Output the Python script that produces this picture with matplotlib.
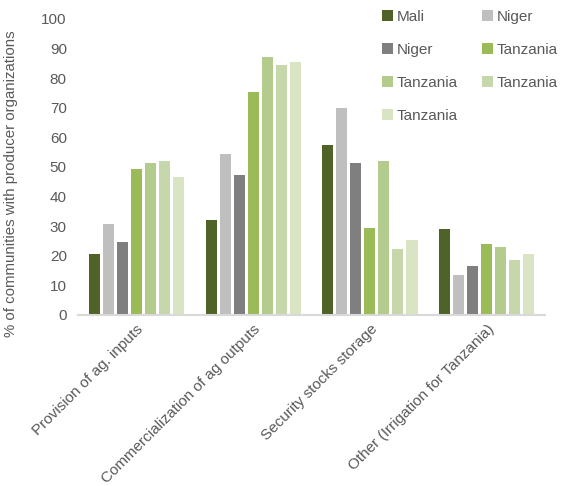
import matplotlib
matplotlib.use("Agg")
import matplotlib.pyplot as plt
import numpy as np

plt.rcParams['font.family'] = ['Liberation Sans', 'DejaVu Sans']

categories = ["Provision of ag. inputs", "Commercialization of ag outputs",
              "Security stocks storage", "Other (Irrigation for Tanzania)"]
series_names = ["Mali", "Niger", "Niger", "Tanzania", "Tanzania", "Tanzania", "Tanzania"]
values = [
    [20.6, 32.1, 57.4, 28.9],
    [30.6, 54.5, 69.8, 13.5],
    [24.5, 47.2, 51.2, 16.6],
    [49.4, 75.2, 29.4, 23.9],
    [51.2, 87.0, 52.0, 22.9],
    [51.9, 84.5, 22.3, 18.7],
    [46.7, 85.6, 25.4, 20.6],
]
colors = ["#4F6228", "#BFBFBF", "#7F7F7F", "#9BBB59", "#B3CB8D", "#C6D7AC", "#D8E4C4"]
yticks = list(range(0, 101, 10))

fig = plt.figure(figsize=(5.69, 4.86), dpi=100)
ax = fig.add_axes([0.137, 0.352, 0.821, 0.609])

x = np.arange(len(categories))
slot = 0.12
bw = 0.095
n = len(series_names)
handles = []
for i, (name, vals, c) in enumerate(zip(series_names, values, colors)):
    off = (i - (n - 1) / 2) * slot
    b = ax.bar(x + off, vals, width=bw, color=c, label=name, edgecolor='none')
    handles.append(b)

ax.set_xlim(-0.5, len(categories) - 0.5)
ax.set_ylim(0, 100)
ax.set_yticks(yticks)
ax.tick_params(axis='y', length=0, labelsize=11, labelcolor='#595959', pad=8)
ax.tick_params(axis='x', length=0, labelsize=11, labelcolor='#595959', pad=5)
ax.set_xticks(x)
ax.set_xticklabels(categories, rotation=45, ha='right', rotation_mode='anchor')
for s in ['top', 'right', 'left']:
    ax.spines[s].set_visible(False)
ax.spines['bottom'].set_color('#D9D9D9')
ax.spines['bottom'].set_linewidth(1.5)
ax.set_ylabel("% of communities with producer organizations", fontsize=10.8, color='#595959')
ax.yaxis.set_label_coords(-0.128, 0.443)

order = [0, 2, 4, 6, 1, 3, 5]
leg = ax.legend(handles=[handles[i] for i in order], labels=[series_names[i] for i in order],
                ncol=2, loc='upper left', bbox_to_anchor=(0.622, 1.078),
                frameon=False, fontsize=11, handlelength=0.7, handleheight=0.7,
                labelspacing=1.25, columnspacing=1.6, handletextpad=0.25)
for t in leg.get_texts():
    t.set_color('#595959')

fig.savefig("out.png", dpi=100)
